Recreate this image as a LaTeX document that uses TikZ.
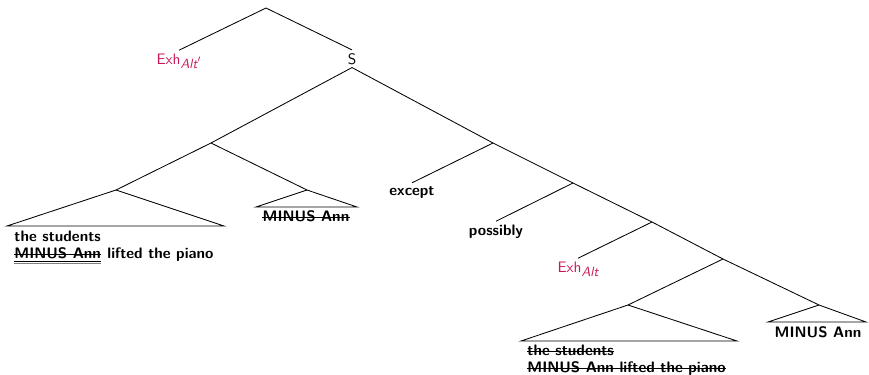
\documentclass[tikz,border=0pt]{standalone}
\usepackage{fontspec}
\usetikzlibrary{calc}
\definecolor{exhred}{HTML}{C8175A}
\newcommand{\exhsub}[1]{Exh\raisebox{-3pt}{\fontsize{9.5}{11}\selectfont\itshape #1}}
\tikzset{
    px/.style={x=0.025cm, y=-0.025cm},
    word/.style={inner sep=2pt, font=\fontsize{10.8}{13}\selectfont\sffamily\bfseries},
    cat/.style={inner sep=2pt, font=\fontsize{10.8}{13}\selectfont\sffamily},
    exh/.style={cat, text=exhred},
    plain/.style={word, inner sep=0pt},
    struck/.style={plain, text height=1.3ex, text depth=0pt,
        append after command={(\tikzlastnode.west) edge[line width=0.8pt] (\tikzlastnode.east)}},
    underline/.style={line width=0.6pt},
}
\begin{document}
\begin{tikzpicture}[px, line width=0.6pt]
    \useasboundingbox (0,0) rectangle (869,375);
    \coordinate (top) at (266,8);
    \node[exh, anchor=base] (exhb) at (179,64) {\exhsub{Alt$'$}};
    \node[cat, anchor=base] (s) at (352,64) {S};
    \coordinate (vp) at (211,143);
    \coordinate (ex) at (493,143);
    \coordinate (poss) at (573,183);
    \coordinate (exa) at (652,222);
    \coordinate (sm) at (723,259);
    \node[word, anchor=base] (except) at (412,195) {except};
    \node[word, anchor=base] (possibly) at (496,235) {possibly};
    \node[exh, anchor=base] (exha) at (578,272) {\exhsub{Alt}};
    \foreach \n/\tx/\ty/\l/\r/\y in {ta/116/190/7/224/226, tb/307/190/256/357/207, tc/628/305/521/737/341, td/819/305/768/866/322} {
        \coordinate (\n) at (\tx,\ty);
        \coordinate (\n l) at (\l,\y);
        \coordinate (\n r) at (\r,\y);
        \draw (\n) -- (\n l) -- (\n r) -- cycle;
    }
    \foreach \a/\b in {top/exhb.north, top/s.north, s.south/vp, s.south/ex, vp/ta, vp/tb,
        ex/except.north, ex/poss, poss/possibly.north, poss/exa, exa/exha.north, exa/sm, sm/tc, sm/td}
        \draw (\a) -- (\b);
    \node[plain, anchor=base west] (ta1) at (14,241) {the students};
    \node[struck, anchor=base west] (ta2) at (14,258) {MINUS Ann};
    \node[plain, anchor=base west] (ta3) at (ta2.base east) {\ lifted the piano};
    \draw[underline] ([yshift=-2.4pt]ta2.south west) -- ([yshift=-2.4pt]ta2.south east);
    \draw[underline, gray] ([yshift=-3.8pt]ta2.south west) -- ([yshift=-3.8pt]ta2.south east);
    \node[struck, anchor=base] (tb1) at (306,221) {MINUS Ann};
    \node[struck, anchor=base west] (tc1) at (527,355) {the students};
    \node[struck, anchor=base west] (tc2) at (527,372) {MINUS Ann lifted the piano};
    \node[plain, anchor=base] (td1) at (818,337) {MINUS Ann};
\end{tikzpicture}
\end{document}
